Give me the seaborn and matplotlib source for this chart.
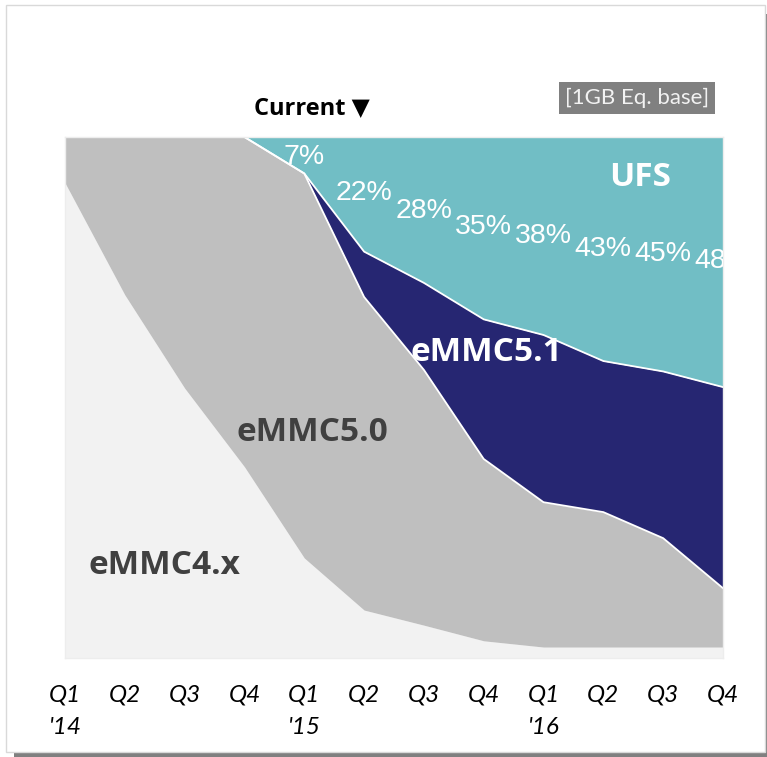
import numpy as np
import pandas as pd
import matplotlib
matplotlib.use("Agg")
import matplotlib.pyplot as plt
from matplotlib.patches import Rectangle
import seaborn as sns

# quarterly share (%) of each interface, 1GB eq. base
quarters = ["Q1\n'14", "Q2", "Q3", "Q4", "Q1\n'15", "Q2", "Q3", "Q4",
            "Q1\n'16", "Q2", "Q3", "Q4"]
emmc4x = [91.2, 69.7, 51.8, 36.7, 19.2, 9.2, 6.3, 3.3, 2.1, 2.1, 2.1, 2.1]
emmc50 = [8.8, 30.3, 48.2, 63.3, 73.8, 60.1, 49.0, 34.9, 27.8, 25.9, 20.9, 11.3]
emmc51 = [0, 0, 0, 0, 0, 8.7, 16.7, 26.8, 32.1, 29.0, 32.0, 38.6]
ufs = [0, 0, 0, 0, 7, 22, 28, 35, 38, 43, 45, 48]

# where the white percent labels sit (y in %)
ufs_label_y = [96.2, 89.3, 85.8, 82.7, 81.0, 78.5, 77.5, 76.2]

colors = {"eMMC4.x": "#F2F2F2", "eMMC5.0": "#BFBFBF",
          "eMMC5.1": "#262672", "UFS": "#71BEC5"}

sns.set_theme(style="white")
plt.rcParams['font.family'] = ['Lato', 'DejaVu Sans']
bold_font = ['Open Sans', 'DejaVu Sans']

W, H = 767, 757
fig = plt.figure(figsize=(W / 100, H / 100), dpi=100)

# frame with shadow
fig.patches.append(Rectangle((14 / W, 0), (W - 14) / W, (H - 14) / H,
                             transform=fig.transFigure, facecolor="#808080",
                             edgecolor="none", zorder=-2))
fig.patches.append(Rectangle((6 / W, 5 / H), 759 / W, 747 / H,
                             transform=fig.transFigure, facecolor="white",
                             edgecolor="#D9D9D9", linewidth=1, zorder=-1))

ax = fig.add_axes([65 / W, 99 / H, 658 / W, 521 / H])
ax.set_facecolor("none")

x = np.arange(len(quarters))
ax.stackplot(x, emmc4x, emmc50, emmc51, ufs,
             colors=[colors[k] for k in ["eMMC4.x", "eMMC5.0", "eMMC5.1", "UFS"]],
             linewidth=0)

# white separators between the upper layers
df = pd.DataFrame({
    "x": x,
    "cum50": np.array(emmc4x) + np.array(emmc50),
    "cum51": np.array(emmc4x) + np.array(emmc50) + np.array(emmc51),
})
sns.lineplot(data=df, x="x", y="cum50", color="white", linewidth=1.3, ax=ax)
sns.lineplot(data=df, x="x", y="cum51", color="white", linewidth=1.3, ax=ax)

ax.set_xlim(0, len(quarters) - 1)
ax.set_ylim(0, 100)
ax.set_xlabel("")
ax.set_ylabel("")
ax.set_yticks([])
ax.set_xticks(x)
ax.set_xticklabels(quarters, fontsize=17.5, style="italic", color="black",
                   linespacing=1.7)
ax.tick_params(axis="x", length=0, pad=19)
for s in ax.spines.values():
    s.set_color("#EDEDED")
    s.set_linewidth(1)

# UFS percentages
k = 0
for i, v in enumerate(ufs):
    if v > 0:
        ax.text(i, ufs_label_y[k], f"{v}%", ha="center", va="center",
                fontsize=20.5, color="white", family="Liberation Sans",
                clip_on=True)
        k += 1

# series names
ax.text(9.61, 92.3, "UFS", ha="center", va="center", fontsize=24,
        fontweight="bold", color="white", family=bold_font)
ax.text(7.05, 58.7, "eMMC5.1", ha="center", va="center", fontsize=24,
        fontweight="bold", color="white", family=bold_font)
ax.text(4.13, 43.2, "eMMC5.0", ha="center", va="center", fontsize=24,
        fontweight="bold", color="#404040", family=bold_font)
ax.text(1.655, 17.8, "eMMC4.x", ha="center", va="center", fontsize=24,
        fontweight="bold", color="#404040", family=bold_font)

fig.text(312 / W, 1 - 108 / H, "Current \u25BC", ha="center", va="center",
         fontsize=17, fontweight="bold", color="black", family=bold_font)
fig.text(637 / W, 1 - 98 / H, "[1GB Eq. base]", ha="center", va="center",
         fontsize=16, color="#F2F2F2",
         bbox=dict(boxstyle="square,pad=0.25", facecolor="#808080",
                   edgecolor="none"))

fig.savefig("out.png", dpi=100)
